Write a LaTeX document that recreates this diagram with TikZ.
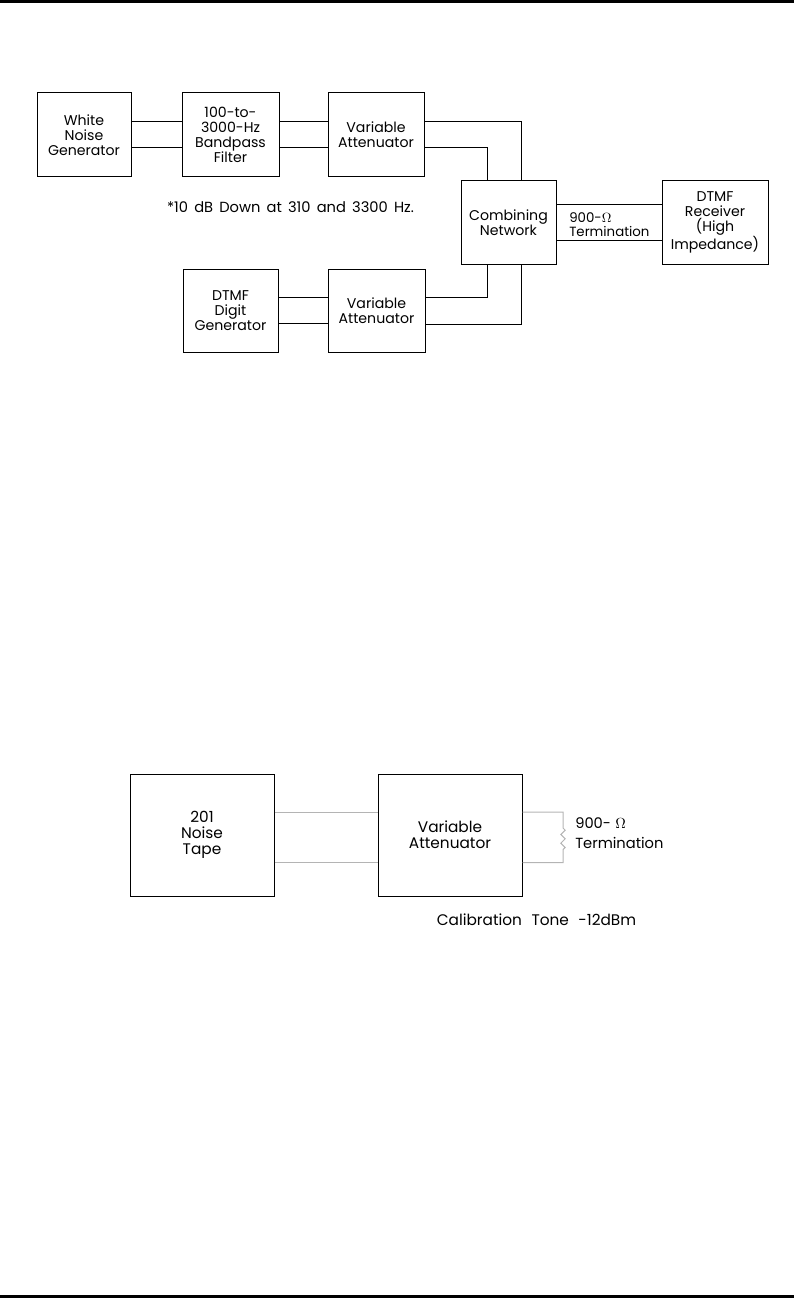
\documentclass[tikz,border=0pt]{standalone}
\usepackage{fontspec}
\setmainfont{Poppins}
\usetikzlibrary{calc, decorations.pathmorphing}

\definecolor{wiregray}{RGB}{180,180,180}
\newcommand{\widesp}[1]{\spaceskip=#1em plus 0.1em\relax}

\tikzset{
	blk/.style 2 args={draw, line width=0.75pt, inner sep=0pt, align=center,
		minimum width=#1*0.75pt, minimum height=#2*0.75pt,
		font=\fontsize{10.6}{11.4}\selectfont},
	bigblk/.style={font=\fontsize{11.5}{12}\selectfont},
	wire/.style={line width=0.75pt},
	gwire/.style={line width=0.75pt, wiregray},
	lbl/.style={inner sep=0pt, align=left},
}

\begin{document}
\begin{tikzpicture}[x=0.75pt,y=-0.75pt]
	\useasboundingbox (0,0) rectangle (794,1298);
	\draw[line width=2.25pt] (0,1.5)--(794,1.5);
	\draw[line width=2.25pt] (0,1296.5)--(794,1296.5);

	% upper set-up
	\node[blk={94}{84}]  (wng) at (84,135)    {White\\Noise\\Generator};
	\node[blk={97}{84}]  (bpf) at (230.5,135) {100-to-\\3000-Hz\\Bandpass\\Filter};
	\node[blk={96}{84}]  (va1) at (376,135)   {Variable\\Attenuator};
	\node[blk={95}{83}]  (cmb) at (508.5,222.5) {Combining\\Network};
	\node[blk={106}{83}] (rcv) at (715,222.5) {DTMF\\Receiver\\(High\\Impedance)};
	\node[blk={95}{83}]  (dgg) at (230.5,310.5) {DTMF\\Digit\\Generator};
	\node[blk={97}{83}]  (va2) at (376.5,310.5) {Variable\\Attenuator};

	\foreach \dy in {-13,13}{
		\draw[wire] ($(wng.east)+(0,\dy)$) -- ($(bpf.west)+(0,\dy)$);
		\draw[wire] ($(bpf.east)+(0,\dy)$) -- ($(va1.west)+(0,\dy)$);
		\draw[wire] ($(dgg.east)+(0,\dy)$) -- ($(va2.west)+(0,\dy)$);
	}
	\draw[wire] ($(va1.east)+(0,-13)$) -| ($(cmb.north)+(12.5,0)$);
	\draw[wire] ($(va1.east)+(0,13)$) -| ($(cmb.north)+(-21.5,0)$);
	\draw[wire] ($(va2.east)+(0,-13)$) -| ($(cmb.south)+(-21.5,0)$);
	\draw[wire] ($(va2.east)+(0,14)$) -| ($(cmb.south)+(12.5,0)$);
	\draw[wire] ($(cmb.east)+(0,-17.5)$) -- ($(rcv.west)+(0,-17.5)$);
	\draw[wire] ($(cmb.east)+(0,18.5)$) -- ($(rcv.west)+(0,18.5)$);

	\node[lbl, anchor=west, font=\fontsize{10}{10.5}\selectfont] (trm1) at (569,225)
		{900-$\Omega$\\Termination};
	\node[lbl, font=\fontsize{11}{12}\selectfont\widesp{0.42}] (note) at (290.5,207)
		{*10 dB Down at 310 and 3300 Hz.};

	% lower set-up
	\node[blk={144}{122}, bigblk] (tape) at (202,835) {201\\Noise\\Tape};
	\node[blk={144}{122}, bigblk] (va3)  at (450,835) {Variable\\Attenuator};
	\coordinate (rtop) at (563,812);
	\coordinate (rbot) at (563,862.5);

	\draw[gwire] ($(tape.east)+(0,-23)$) -- ($(va3.west)+(0,-23)$);
	\draw[gwire] ($(tape.east)+(0,27.5)$) -- ($(va3.west)+(0,27.5)$);
	\draw[gwire] ($(va3.east)+(0,-23)$) -- (rtop) -- ($(rtop)+(0,16)$)
		decorate[decoration={zigzag, segment length=6.5pt, amplitude=1.6pt}]{-- ($(rbot)+(0,-10)$)}
		-- (rbot) -- ($(va3.east)+(0,27.5)$);

	\node[lbl, anchor=west, font=\fontsize{11}{14.5}\selectfont\widesp{0.3}] (trm2) at (575,833)
		{900- $\Omega$\\Termination};
	\node[lbl, font=\fontsize{11.5}{12}\selectfont\widesp{0.62}] (cal) at (536.5,920)
		{Calibration Tone -12dBm};
\end{tikzpicture}
\end{document}
